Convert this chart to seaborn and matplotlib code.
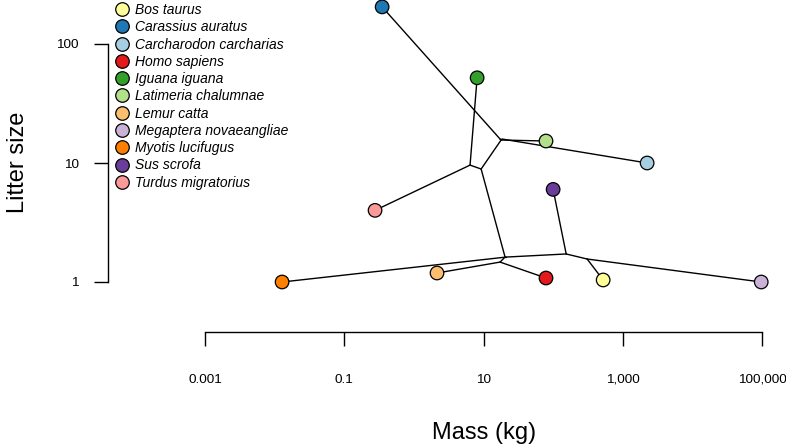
import matplotlib
matplotlib.use("Agg")
import matplotlib.pyplot as plt
import seaborn as sns
import pandas as pd
import numpy as np

# ---- data ----
species = ["Bos taurus", "Carassius auratus", "Carcharodon carcharias", "Homo sapiens",
           "Iguana iguana", "Latimeria chalumnae", "Lemur catta", "Megaptera novaeangliae",
           "Myotis lucifugus", "Sus scrofa", "Turdus migratorius"]
mass = [523, 0.35, 2240, 79, 8.1, 79, 2.15, 97500, 0.0128, 100, 0.277]
litter = [1.04, 205, 10, 1.08, 52, 15.3, 1.19, 1.0, 1.0, 6.0, 4.0]
colors = ["#FFFF99", "#1F78B4", "#A6CEE3", "#E31A1C", "#33A02C", "#B2DF8A",
          "#FDBF6F", "#CAB2D6", "#FF7F00", "#6A3D9A", "#FB9A99"]

# ancestral (internal node) estimates
nodes = ["root", "osteichthyes", "sarcopterygii", "tetrapoda", "sauropsida",
         "mammalia", "primates", "laurasiatheria", "cetartiodactyla", "whippomorpha"]
node_mass = [18.5, 17.3, 17.9, 9.25, 6.41, 20.4, 17.3, 21.1, 154, 308]
node_litter = [15.9, 15.9, 15.6, 8.9, 9.6, 1.62, 1.47, 1.62, 1.72, 1.56]

edges = [("root", "Carcharodon carcharias"), ("root", "osteichthyes"),
         ("osteichthyes", "Carassius auratus"), ("osteichthyes", "sarcopterygii"),
         ("sarcopterygii", "Latimeria chalumnae"), ("sarcopterygii", "tetrapoda"),
         ("tetrapoda", "sauropsida"), ("tetrapoda", "mammalia"),
         ("sauropsida", "Iguana iguana"), ("sauropsida", "Turdus migratorius"),
         ("mammalia", "primates"), ("mammalia", "laurasiatheria"),
         ("primates", "Lemur catta"), ("primates", "Homo sapiens"),
         ("laurasiatheria", "Myotis lucifugus"), ("laurasiatheria", "cetartiodactyla"),
         ("cetartiodactyla", "Sus scrofa"), ("cetartiodactyla", "whippomorpha"),
         ("whippomorpha", "Bos taurus"), ("whippomorpha", "Megaptera novaeangliae")]

x_ticks = [0.001, 0.1, 10, 1000, 100000]
x_ticklabels = ["0.001", "0.1", "10", "1,000", "100,000"]
y_ticks = [1, 10, 100]
y_ticklabels = ["1", "10", "100"]

# ---- plotting ----
sns.set_theme(style="white")
plt.rcParams["font.family"] = ["Liberation Sans", "DejaVu Sans"]
plt.rcParams["text.color"] = "black"

W, H = 786, 445
fig = plt.figure(figsize=(W / 100, H / 100), dpi=100)
ax = fig.add_axes([205 / W, 1 - 300 / H, 557 / W, 300 / H])
ax.set_xscale("log")
ax.set_yscale("log")

pos = {}
for n, m, l in zip(species, mass, litter):
    pos[n] = (m, l)
for n, m, l in zip(nodes, node_mass, node_litter):
    pos[n] = (m, l)

for a, b in edges:
    xa, ya = pos[a]
    xb, yb = pos[b]
    ax.plot([xa, xb], [ya, yb], color="black", lw=1.0, zorder=1, clip_on=False)

df = pd.DataFrame({"species": species, "mass": mass, "litter": litter})
sns.scatterplot(data=df, x="mass", y="litter", hue="species", hue_order=species,
                palette=colors, s=95, edgecolor="black", linewidth=0.9,
                zorder=3, clip_on=False, ax=ax, legend=True)

ax.set_xlim(1e-3, 1e5)
ax.set_ylim(10 ** (-18 / 119), 10 ** (282 / 119))

ax.set_xticks(x_ticks)
ax.set_xticklabels(x_ticklabels)
ax.set_yticks(y_ticks)
ax.set_yticklabels(y_ticklabels)
ax.minorticks_off()

for s in ["top", "right"]:
    ax.spines[s].set_visible(False)
ax.spines["bottom"].set_position(("outward", 23))
ax.spines["left"].set_position(("outward", 70))
ax.spines["bottom"].set_bounds(1e-3, 1e5)
ax.spines["left"].set_bounds(1, 100)
for s in ["bottom", "left"]:
    ax.spines[s].set_color("black")
    ax.spines[s].set_linewidth(1.0)

ax.tick_params(axis="x", direction="out", length=10, width=1.0, pad=20,
               labelsize=9.7, colors="black", labelcolor="black", bottom=True)
ax.tick_params(axis="y", direction="out", length=10, width=1.0, pad=11,
               labelsize=9.7, colors="black", labelcolor="black", left=True)

ax.set_xlabel("")
ax.set_ylabel("")
fig.text(484 / W, 1 - 433 / H, "Mass (kg)", ha="center", va="center",
         fontsize=17, color="black")
fig.text(18 / W, 1 - 162 / H, "Litter size", ha="center", va="center",
         fontsize=17, rotation=90, color="black")

handles, labels = ax.get_legend_handles_labels()
for h in handles:
    if hasattr(h, "set_markeredgecolor"):
        h.set_markeredgecolor("black")
        h.set_markeredgewidth(0.9)
    else:
        h.set_edgecolor("black")
        h.set_linewidth(0.9)
leg = ax.legend(handles, labels, loc="upper left",
                bbox_to_anchor=(112 / W, 1 - 3 / H), bbox_transform=fig.transFigure,
                frameon=False, prop={"style": "italic", "size": 10},
                labelspacing=0.235, handletextpad=0.15, borderpad=0.0,
                borderaxespad=0.0, handlelength=1.5, markerscale=1.0)
for t in leg.get_texts():
    t.set_color("black")

ax.patch.set_alpha(0)
fig.savefig("out.png", dpi=100)
